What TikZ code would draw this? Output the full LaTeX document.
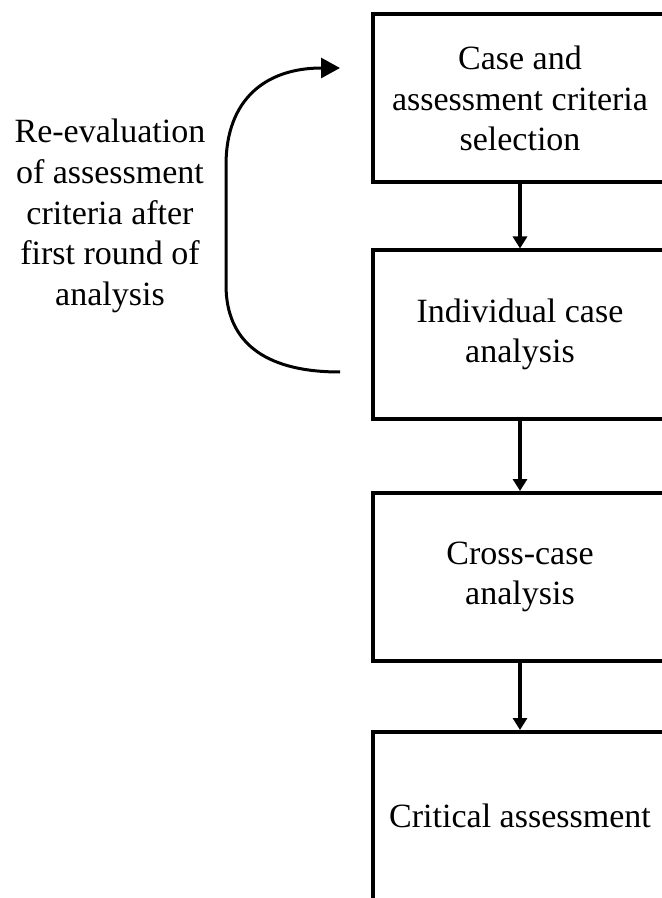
\documentclass[tikz,border=0pt]{standalone}
\usepackage{fontspec}
\setmainfont{Liberation Serif}
\usetikzlibrary{arrows.meta}

\begin{document}
\begin{tikzpicture}[x=0.5pt,y=0.5pt]
	\tikzstyle{every node}+=[font=\fontsize{17}{20.3}\selectfont, align=center]
	\tikzstyle{stage}=[draw=black, line width=2pt, minimum width=147pt, minimum height=84pt, inner sep=0pt]
	\tikzstyle{flow}=[black, line width=1.6pt, -{Triangle[length=6pt,width=7pt]}]
	\tikzstyle{loop}=[black, line width=1.5pt, -{Triangle[length=9.5pt,width=10pt]}]
	\useasboundingbox (0,0) rectangle (662,-898);
	\clip (0,0) rectangle (662,-898);
	\node [stage] (select) at (520,-98.5) {Case and\\assessment criteria\\selection};
	\node [stage] (individual) at (520,-334.5) {Individual case\\analysis};
	\node [stage] (cross) at (520,-577) {Cross-case\\analysis};
	\node [stage] (critical) at (520,-816) {Critical assessment};
	\draw [flow] (select) -- (individual);
	\draw [flow] (individual) -- (cross);
	\draw [flow] (cross) -- (critical);
	% feedback loop
	\coordinate (loopin) at (340,-372);
	\coordinate (loopout) at (340,-68);
	\node (reeval) at (110,-216) {Re-evaluation\\of assessment\\criteria after\\first round of\\analysis};
	\draw [loop] (loopin) .. controls (262,-372) and (226,-340) .. (226,-285) -- (226,-165) .. controls (226,-100) and (265,-68) .. (loopout);
\end{tikzpicture}
\end{document}
